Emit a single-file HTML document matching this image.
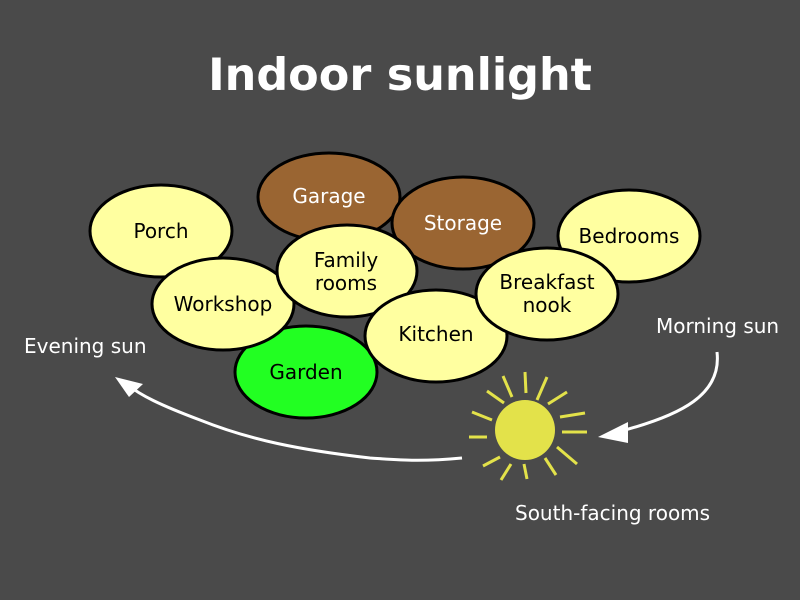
<!DOCTYPE html>
<html><head><style>body{margin:0;background:#4a4a4a}svg{display:block}</style></head><body>
<svg width="800" height="600" xmlns="http://www.w3.org/2000/svg" font-family="DejaVu Sans, sans-serif">
<rect width="800" height="600" fill="#4a4a4a"/>
<text x="400" y="90" text-anchor="middle" fill="#fff" font-size="44.5" font-weight="bold">Indoor sunlight</text>
<g stroke="#000" stroke-width="3">
<ellipse cx="161" cy="231" rx="71" ry="46" fill="#ffffa0"/>
<ellipse cx="329" cy="197" rx="71" ry="44" fill="#9a6532"/>
<ellipse cx="463" cy="223" rx="71" ry="46" fill="#9a6532"/>
<ellipse cx="629" cy="236" rx="71" ry="46" fill="#ffffa0"/>
<ellipse cx="306" cy="372" rx="71" ry="46" fill="#22ff22"/>
<ellipse cx="223" cy="304" rx="71" ry="46" fill="#ffffa0"/>
<ellipse cx="347" cy="271" rx="70" ry="46" fill="#ffffa0"/>
<ellipse cx="436" cy="336" rx="71" ry="46" fill="#ffffa0"/>
<ellipse cx="547" cy="294" rx="71" ry="46" fill="#ffffa0"/>
</g>
<g font-size="20" text-anchor="middle" fill="#000">
<text x="161" y="238">Porch</text>
<text x="329" y="203" fill="#fff">Garage</text>
<text x="463" y="230" fill="#fff">Storage</text>
<text x="629" y="243">Bedrooms</text>
<text x="306" y="379">Garden</text>
<text x="223" y="311">Workshop</text>
<text x="346" y="267">Family</text>
<text x="346" y="290">rooms</text>
<text x="436" y="341">Kitchen</text>
<text x="547" y="289">Breakfast</text>
<text x="547" y="312">nook</text>
</g>
<g font-size="20" fill="#fff">
<text x="24" y="353">Evening sun</text>
<text x="656" y="333">Morning sun</text>
<text x="515" y="520">South-facing rooms</text>
</g>
<circle cx="525" cy="430" r="30" fill="#e3e24a"/>
<g stroke="#e3e24a" stroke-width="3">
<line x1="525" y1="372" x2="526" y2="393"/><line x1="547" y1="377" x2="537" y2="400"/>
<line x1="567" y1="392" x2="548" y2="404"/><line x1="585" y1="413" x2="560" y2="417"/>
<line x1="587" y1="432" x2="562" y2="432"/><line x1="577" y1="464" x2="557" y2="447"/>
<line x1="556" y1="475" x2="545" y2="458"/><line x1="527" y1="479" x2="524" y2="464"/>
<line x1="501" y1="480" x2="511" y2="464"/><line x1="483" y1="466" x2="500" y2="457"/>
<line x1="469" y1="437" x2="487" y2="437"/><line x1="472" y1="412" x2="492" y2="420"/>
<line x1="487" y1="391" x2="504" y2="403"/><line x1="503" y1="376" x2="512" y2="397"/>
</g>
<g stroke="#fff" stroke-width="3" fill="none">
<path d="M717 352 C722 395 680 415 625 430"/>
<path d="M462 458 C420 462 400 460 370 458 C300 450 250 440 200 420 C160 405 140 395 128 385"/>
</g>
<polygon points="598,437 628,422 628,443" fill="#fff"/>
<polygon points="115,377 143,384 129,397" fill="#fff"/>
</svg>
</body></html>
